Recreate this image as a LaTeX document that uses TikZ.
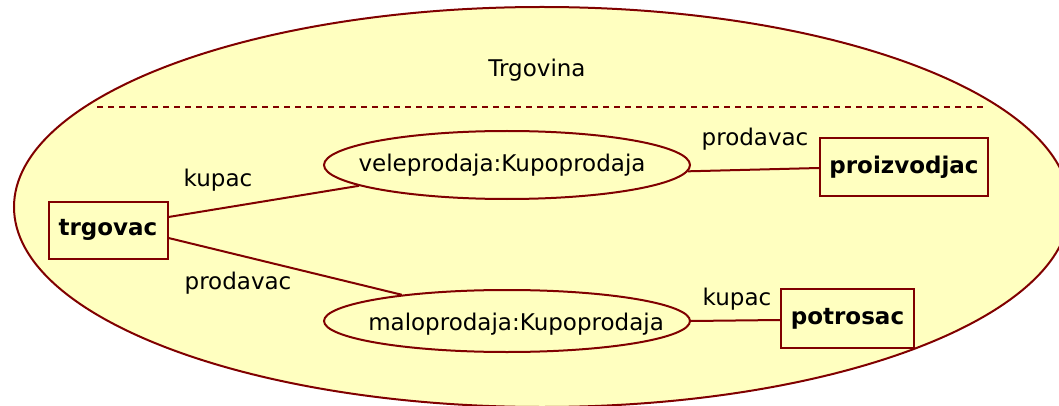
\documentclass[tikz,border=0pt]{standalone}
\usepackage{fontspec}
\setmainfont{DejaVu Sans}
\usetikzlibrary{shapes.geometric}
\definecolor{umlfill}{RGB}{255,255,192}
\definecolor{umlline}{RGB}{128,0,0}
\begin{document}
\begin{tikzpicture}[x=1pt,y=-1pt,
  every node/.style={font=\fontsize{23}{26}\selectfont},
  collab/.style={ellipse,draw=umlline,fill=umlfill,line width=2pt,minimum width=366pt,minimum height=68pt,inner sep=0pt},
  classbox/.style={rectangle,draw=umlline,fill=umlfill,line width=2pt,font=\fontsize{23}{26}\selectfont\bfseries,inner sep=0pt},
  conn/.style={draw=umlline,line width=2pt},
  role/.style={inner sep=0pt}]
\useasboundingbox (0,0) rectangle (1059,406);
\begin{scope}
\clip (0,0) rectangle (1059,406);
\filldraw[draw=umlline,fill=umlfill,line width=2pt] (542,207) ellipse [x radius=528, y radius=200];
\end{scope}
\node[role] (title) at (537,70) {Trgovina};
\coordinate (dl) at (97,107);
\coordinate (dr) at (985,107);
\draw[umlline,line width=2pt,dash pattern=on 6pt off 5pt] (dl) -- (dr);

\node[collab] (vele) at (507,165) {};
\node[role] at (502,165) {veleprodaja:Kupoprodaja};
\node[collab,minimum height=62pt] (malo) at (507,321) {};
\node[role] at (516,324) {maloprodaja:Kupoprodaja};

\node[classbox,minimum width=119pt,minimum height=57pt] (trg) at (108,230) {trgovac};
\node[classbox,minimum width=168pt,minimum height=58pt] (pro) at (904,167) {proizvodjac};
\node[classbox,minimum width=133pt,minimum height=59pt] (pot) at (847.5,318.5) {potrosac};

\path[conn] (trg.east |- 0,217) coordinate (t1) -- (vele.188);
\path[conn] (trg.east |- 0,238) coordinate (t2) -- (malo.166);
\path[conn] (vele.358) -- (pro.west |- 0,168);
\path[conn] (malo.east) -- (pot.west |- 0,320);

\node[role] at (218,180) {kupac};
\node[role] at (238,283) {prodavac};
\node[role] at (755,139) {prodavac};
\node[role] at (737,299) {kupac};
\end{tikzpicture}
\end{document}
